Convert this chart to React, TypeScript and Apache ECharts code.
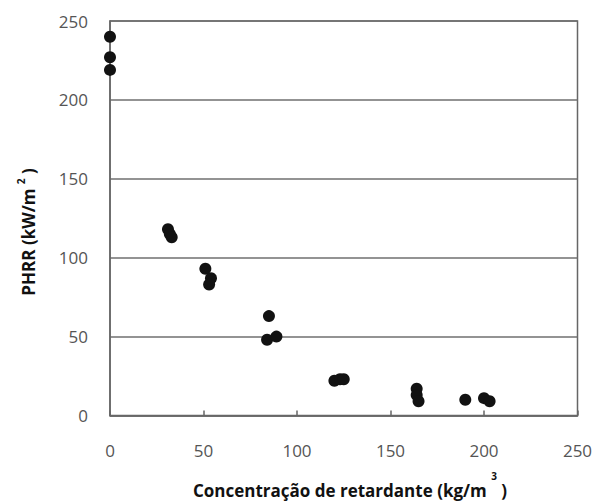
import React, { useEffect, useRef } from "react";
import * as echarts from "echarts";

// Retardant concentration (kg/m³) and peak heat release rate (kW/m²)
const concentration = [0, 0, 0, 31, 32, 33, 51, 54, 53, 85, 84, 89, 120, 123, 125, 164, 164, 165, 190, 200, 203];
const phrr = [240, 227, 219, 118, 115, 113, 93, 87, 83, 63, 48, 50, 22, 23, 23, 17, 13, 9, 10, 11, 9];

const xTicks = [0, 50, 100, 150, 200, 250];
const yTicks = [0, 50, 100, 150, 200, 250];

const xTitle = "{t|Concentração de retardante (kg/m }{s|3}{t| )}";
const yTitle = "{t|PHRR (kW/m }{s|2}{t| )}";

export default function App() {
  const ref = useRef<HTMLDivElement>(null);

  useEffect(() => {
    if (!ref.current) return;
    const chart = echarts.init(ref.current, undefined, { renderer: "svg" });
    const points = concentration.map((c, i) => [c, phrr[i]]);
    const labelFont = "'Open Sans', sans-serif";
    const titleFont = "'Open Sans', sans-serif";

    const titleStyle = (lineHeight: number) => ({
      t: {
        fontSize: 17,
        fontWeight: "bold",
        fontFamily: titleFont,
        fill: "#111",
        lineHeight,
      },
      s: {
        fontSize: 10,
        fontWeight: "bold",
        fontFamily: titleFont,
        fill: "#111",
        lineHeight: 10,
        verticalAlign: "top",
      },
    });

    chart.setOption({
      animation: false,
      backgroundColor: "#ffffff",
      grid: {
        left: 110,
        right: 19.5,
        top: 21,
        bottom: 85.5,
        show: true,
        borderColor: "#666",
        borderWidth: 1.5,
      },
      xAxis: {
        type: "value",
        min: xTicks[0],
        max: xTicks[xTicks.length - 1],
        interval: 50,
        axisLine: { show: true, lineStyle: { color: "#666", width: 1.5 } },
        axisTick: { show: true, inside: true, length: 5, lineStyle: { color: "#666", width: 1.5 } },
        splitLine: { show: false },
        axisLabel: {
          margin: 26,
          fontSize: 17,
          color: "#555",
          fontFamily: labelFont,
          showMaxLabel: true,
          showMinLabel: true,
        },
      },
      yAxis: {
        type: "value",
        min: yTicks[0],
        max: yTicks[yTicks.length - 1],
        interval: 50,
        axisLine: { show: true, lineStyle: { color: "#666", width: 1.5 } },
        axisTick: { show: false },
        splitLine: { show: true, lineStyle: { color: "#6f6f6f", width: 1.5 } },
        axisLabel: {
          margin: 22,
          fontSize: 17,
          color: "#555",
          fontFamily: labelFont,
        },
      },
      graphic: [
        {
          type: "text",
          x: 350,
          y: 490,
          style: {
            text: xTitle,
            rich: titleStyle(38),
            textAlign: "center",
            textVerticalAlign: "middle",
          },
        },
        {
          type: "text",
          x: 28,
          y: 232,
          rotation: Math.PI / 2,
          style: {
            text: yTitle,
            rich: titleStyle(24),
            textAlign: "center",
            textVerticalAlign: "middle",
          },
        },
      ],
      series: [
        {
          type: "scatter",
          data: points,
          symbol: "circle",
          symbolSize: 12,
          itemStyle: { color: "#121212", opacity: 1 },
          clip: false,
        },
      ],
    });

    return () => chart.dispose();
  }, []);

  return <div ref={ref} style={{ width: 597, height: 501, position: "absolute", left: 0, top: 0 }} />;
}
